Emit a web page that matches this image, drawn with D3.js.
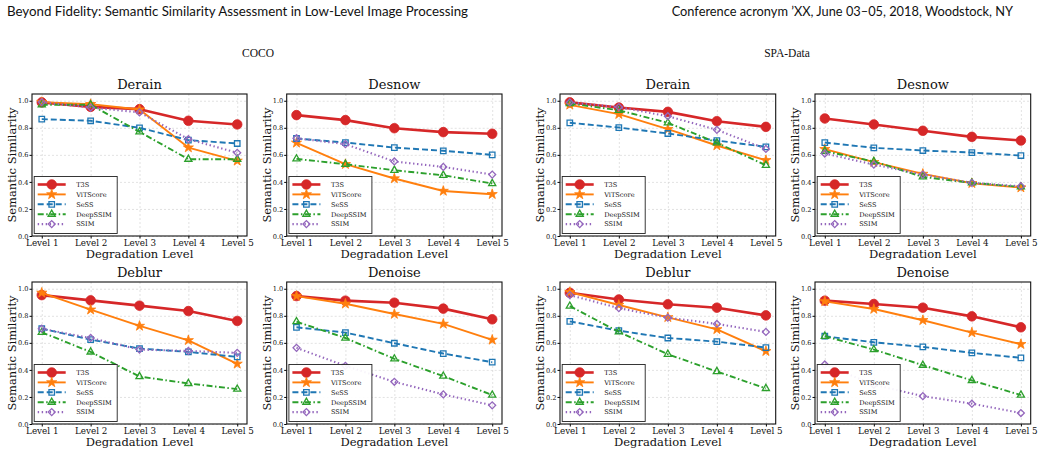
<!DOCTYPE html>
<html>
<head>
<meta charset="utf-8">
<script src="https://cdn.jsdelivr.net/npm/d3@7"></script>
<style>
  body { margin: 0; background: #fff; }
  text { font-family: "DejaVu Serif", serif; fill: #111; }
</style>
</head>
<body>
<svg id="fig" width="1043" height="455"></svg>
<script>
var levels = ['Level 1', 'Level 2', 'Level 3', 'Level 4', 'Level 5'];
var methods = ['T3S', 'ViTScore', 'SeSS', 'DeepSSIM', 'SSIM'];
var yTicks = [0, 0.2, 0.4, 0.6, 0.8, 1.0];

// one row per method, in the order of `methods`
var cocoDerain = [
  [0.988, 0.955, 0.938, 0.852, 0.825],
  [0.99, 0.975, 0.935, 0.654, 0.556],
  [0.864, 0.852, 0.80, 0.709, 0.684],
  [0.97, 0.97, 0.77, 0.568, 0.568],
  [0.99, 0.95, 0.914, 0.716, 0.615]
];
var cocoDesnow = [
  [0.894, 0.857, 0.797, 0.768, 0.756],
  [0.689, 0.531, 0.425, 0.333, 0.309],
  [0.721, 0.691, 0.654, 0.630, 0.60],
  [0.570, 0.531, 0.486, 0.449, 0.388],
  [0.723, 0.679, 0.551, 0.511, 0.454]
];
var cocoDeblur = [
  [0.953, 0.914, 0.875, 0.835, 0.762],
  [0.97, 0.845, 0.725, 0.619, 0.445],
  [0.705, 0.624, 0.558, 0.533, 0.496],
  [0.678, 0.533, 0.351, 0.30, 0.258],
  [0.705, 0.636, 0.55, 0.54, 0.526]
];
var cocoDenoise = [
  [0.946, 0.912, 0.897, 0.853, 0.774],
  [0.946, 0.889, 0.813, 0.74, 0.622],
  [0.715, 0.676, 0.597, 0.521, 0.457],
  [0.757, 0.636, 0.482, 0.354, 0.214],
  [0.563, 0.43, 0.312, 0.219, 0.138]
];
var spaDerain = [
  [0.988, 0.95, 0.918, 0.849, 0.807],
  [0.97, 0.901, 0.79, 0.669, 0.56],
  [0.837, 0.802, 0.758, 0.706, 0.659],
  [0.98, 0.93, 0.837, 0.689, 0.523],
  [0.988, 0.953, 0.886, 0.785, 0.644]
];
var spaDesnow = [
  [0.869, 0.825, 0.778, 0.733, 0.706],
  [0.642, 0.546, 0.459, 0.39, 0.358],
  [0.691, 0.652, 0.632, 0.617, 0.595],
  [0.627, 0.551, 0.437, 0.393, 0.363],
  [0.61, 0.528, 0.454, 0.393, 0.368]
];
var spaDeblur = [
  [0.97, 0.921, 0.885, 0.86, 0.803],
  [0.975, 0.88, 0.789, 0.70, 0.538],
  [0.759, 0.69, 0.636, 0.609, 0.565],
  [0.872, 0.681, 0.516, 0.388, 0.263],
  [0.953, 0.857, 0.786, 0.74, 0.681]
];
var spaDenoise = [
  [0.912, 0.887, 0.86, 0.796, 0.715],
  [0.907, 0.85, 0.767, 0.676, 0.59],
  [0.649, 0.604, 0.57, 0.526, 0.489],
  [0.649, 0.55, 0.435, 0.322, 0.214],
  [0.44, 0.29, 0.206, 0.15, 0.081]
];

// styles per method
var colors = ['#d62728', '#ff7f0e', '#1f77b4', '#2ca02c', '#9467bd'];
var widths = [2.6, 1.9, 1.9, 1.9, 2.1];
var dashes = [null, null, '6,3', '6,2.5,1.5,2.5', '1.4,2.6'];
var symbols = [
  {type: d3.symbolCircle, size: 72, fill: true, rot: 0},
  {type: d3.symbolStar, size: 32, fill: true, rot: 0},
  {type: d3.symbolSquare, size: 30, fill: false, rot: 0},
  {type: d3.symbolTriangle, size: 22, fill: false, rot: 0},
  {type: d3.symbolSquare, size: 24, fill: false, rot: 45}
];

var svg = d3.select('#fig');

// page header
svg.append('text').attr('x', 7).attr('y', 16)
  .style('font-family', 'Lato, sans-serif').style('font-size', '13.3px')
  .text('Beyond Fidelity: Semantic Similarity Assessment in Low-Level Image Processing');
svg.append('text').attr('x', 1013).attr('y', 16).attr('text-anchor', 'end')
  .style('font-family', 'Lato, sans-serif').style('font-size', '12.8px')
  .text('Conference acronym \u2019XX, June 03\u201305, 2018, Woodstock, NY');
svg.append('text').attr('x', 258).attr('y', 57).attr('text-anchor', 'middle')
  .style('font-family', '"Liberation Serif", serif').style('font-size', '11.5px')
  .text('COCO');
svg.append('text').attr('x', 787).attr('y', 57).attr('text-anchor', 'middle')
  .style('font-family', '"Liberation Serif", serif').style('font-size', '11.5px')
  .text('SPA-Data');

var panels = [
  {title: 'Derain', data: cocoDerain, x0: 32, x1: 247, y0: 94, y1: 236},
  {title: 'Desnow', data: cocoDesnow, x0: 286.7, x1: 502, y0: 94, y1: 236},
  {title: 'Derain', data: spaDerain, x0: 560, x1: 775.7, y0: 94, y1: 236},
  {title: 'Desnow', data: spaDesnow, x0: 815, x1: 1030.7, y0: 94, y1: 236},
  {title: 'Deblur', data: cocoDeblur, x0: 32, x1: 247, y0: 282, y1: 424},
  {title: 'Denoise', data: cocoDenoise, x0: 286.7, x1: 502, y0: 282, y1: 424},
  {title: 'Deblur', data: spaDeblur, x0: 560, x1: 775.7, y0: 282, y1: 424},
  {title: 'Denoise', data: spaDenoise, x0: 815, x1: 1030.7, y0: 282, y1: 424}
];

function drawMarker(g, k, cx, cy) {
  var s = symbols[k];
  g.append('path')
    .attr('d', d3.symbol().type(s.type).size(s.size)())
    .attr('transform', 'translate(' + cx + ',' + cy + ') rotate(' + s.rot + ')')
    .attr('fill', s.fill ? colors[k] : 'none')
    .attr('stroke', colors[k])
    .attr('stroke-width', s.fill ? 0.8 : 1.3);
}

panels.forEach(function(p) {
  var g = svg.append('g');
  var x = d3.scaleLinear().domain([0.8, 5.2]).range([p.x0, p.x1]);
  var y = d3.scaleLinear().domain([0, 1.05]).range([p.y1, p.y0]);
  var w = p.x1 - p.x0, h = p.y1 - p.y0;

  // grid
  g.append('g')
    .attr('transform', 'translate(0,' + p.y1 + ')')
    .call(d3.axisBottom(x).tickValues([1, 2, 3, 4, 5]).tickSize(-h).tickFormat(''))
    .call(function(a) { a.select('.domain').remove(); })
    .selectAll('line').attr('stroke', '#cfcfcf').attr('stroke-width', 0.6).attr('stroke-dasharray', '2,2');
  g.append('g')
    .attr('transform', 'translate(' + p.x0 + ',0)')
    .call(d3.axisLeft(y).tickValues(yTicks).tickSize(-w).tickFormat(''))
    .call(function(a) { a.select('.domain').remove(); })
    .selectAll('line').attr('stroke', '#cfcfcf').attr('stroke-width', 0.6).attr('stroke-dasharray', '2,2');

  // axes
  var xa = g.append('g')
    .attr('transform', 'translate(0,' + p.y1 + ')')
    .call(d3.axisBottom(x).tickValues([1, 2, 3, 4, 5]).tickSize(2.5).tickPadding(1.5)
      .tickFormat(function(d) { return levels[d - 1]; }));
  xa.select('.domain').remove();
  xa.selectAll('text').style('font-family', '"DejaVu Serif", serif').style('font-size', '8.8px').attr('fill', '#222');
  var ya = g.append('g')
    .attr('transform', 'translate(' + p.x0 + ',0)')
    .call(d3.axisLeft(y).tickValues(yTicks).tickSize(2.5).tickPadding(1).tickFormat(d3.format('.1f')));
  ya.select('.domain').remove();
  ya.selectAll('text').style('font-family', '"DejaVu Serif", serif').style('font-size', '6.6px').attr('fill', '#333');

  // series
  var line = d3.line().x(function(d, i) { return x(i + 1); }).y(function(d) { return y(d); });
  p.data.forEach(function(vals, k) {
    g.append('path').datum(vals)
      .attr('d', line)
      .attr('fill', 'none')
      .attr('stroke', colors[k])
      .attr('stroke-width', widths[k])
      .attr('stroke-dasharray', dashes[k])
      .attr('stroke-linejoin', 'round');
    vals.forEach(function(v, i) { drawMarker(g, k, x(i + 1), y(v)); });
  });

  // frame
  g.append('rect').attr('x', p.x0).attr('y', p.y0).attr('width', w).attr('height', h)
    .attr('fill', 'none').attr('stroke', '#111').attr('stroke-width', 1.1);

  // labels
  g.append('text').attr('x', (p.x0 + p.x1) / 2).attr('y', p.y0 - 5).attr('text-anchor', 'middle')
    .style('font-size', '13px').text(p.title);
  g.append('text').attr('x', (p.x0 + p.x1) / 2).attr('y', p.y1 + 21.5).attr('text-anchor', 'middle')
    .style('font-size', '11.5px').text('Degradation Level');
  g.append('text')
    .attr('transform', 'translate(' + (p.x0 - 16) + ',' + ((p.y0 + p.y1) / 2) + ') rotate(-90)')
    .attr('text-anchor', 'middle')
    .style('font-size', '11.5px').text('Semantic Similarity');

  // legend
  var lx = p.x0 + 2.2, ly = p.y1 - 59.5;
  var lg = g.append('g').attr('transform', 'translate(' + lx + ',' + ly + ')');
  lg.append('rect').attr('width', 83).attr('height', 57)
    .attr('fill', '#fff').attr('fill-opacity', 0.92)
    .attr('stroke', '#222').attr('stroke-width', 0.9);
  methods.forEach(function(m, k) {
    var yy = 8 + k * 9.9;
    lg.append('line').attr('x1', 3.5).attr('x2', 31.5).attr('y1', yy).attr('y2', yy)
      .attr('stroke', colors[k]).attr('stroke-width', widths[k])
      .attr('stroke-dasharray', dashes[k]);
    drawMarker(lg, k, 17.5, yy);
    lg.append('text').attr('x', 42).attr('y', yy + 2.3)
      .style('font-size', '6.6px').text(m);
  });
});
</script>
</body>
</html>
